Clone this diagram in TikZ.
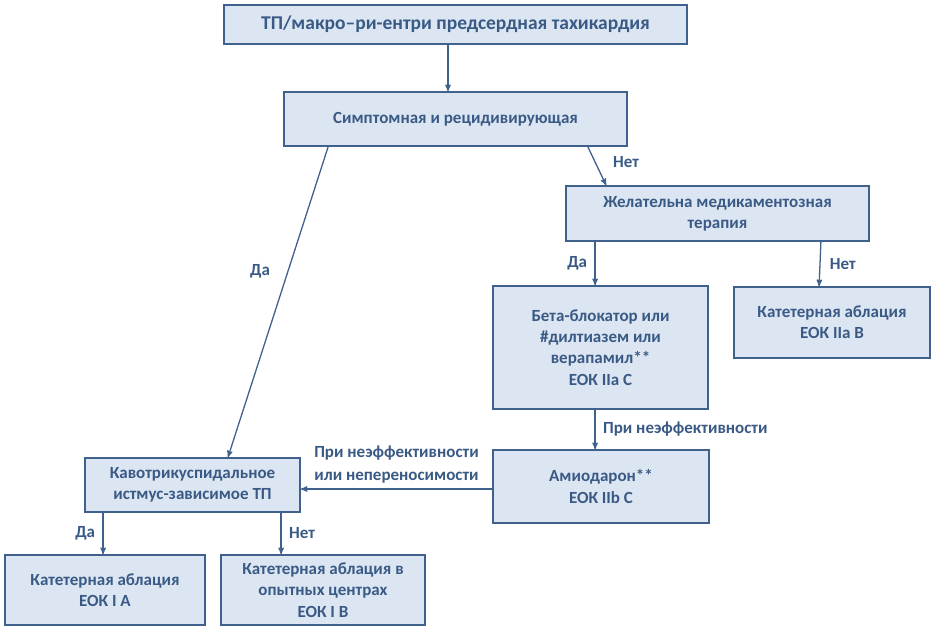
\documentclass[tikz,border=0pt]{standalone}
\usepackage{fontspec}
\setmainfont{Carlito}
\usepackage{tikz}
\usetikzlibrary{arrows}
\definecolor{boxfill}{HTML}{DCE6F2}
\definecolor{boxline}{HTML}{41618D}
\definecolor{boxtext}{HTML}{3A5A86}
\tikzstyle{bt} = [rectangle, draw=boxline, line width=1.8pt, fill=boxfill,
    text=boxtext, align=center, inner sep=0pt,
    font=\bfseries\fontsize{17}{21.3}\selectfont]
\tikzstyle{lbl} = [text=boxtext, font=\bfseries\fontsize{17}{23}\selectfont]

\begin{document}
\begin{tikzpicture}[->,>=stealth',shorten >=0pt,auto,node distance=90pt,
                    line width=1.3pt,color=boxline]
  \useasboundingbox (0,0) rectangle (937pt,-632pt);

  \node[bt, minimum width=463pt, minimum height=39pt,
        font=\bfseries\fontsize{19.5}{23}\selectfont]  (1) at (455.5pt,-24.5pt) {ТП/макро–ри-ентри предсердная тахикардия};
  \node[bt, minimum width=343pt, minimum height=54pt] (2) [below of=1,yshift=-4.5pt] {Симптомная и рецидивирующая};
  \node[bt, minimum width=303pt, minimum height=55pt] (3) [below of=2,xshift=262pt,yshift=-4.5pt] {Желательна медикаментозная\\терапия};
  \node[bt, minimum width=215pt, minimum height=123pt] (4) [below of=3,xshift=-117pt,yshift=-44pt] {Бета-блокатор или\\\#дилтиазем или\\верапамил**\\ЕОК IIa C};
  \node[bt, minimum width=196pt, minimum height=71pt] (5) [below of=3,xshift=114.5pt,yshift=-19pt] {Катетерная аблация\\ЕОК IIa B};
  \node[bt, minimum width=216pt, minimum height=73pt] (6) [below of=4,xshift=0.5pt,yshift=-49pt] {Амиодарон**\\ЕОК IIb C};
  \node[bt, minimum width=215pt, minimum height=54pt] (7) [left of=6,xshift=-318.5pt,yshift=1.5pt] {Кавотрикуспидальное\\истмус-зависимое ТП};
  \node[bt, minimum width=200pt, minimum height=70pt] (8) [below of=7,xshift=-87.5pt,yshift=-15pt] {Катетерная аблация\\ЕОК I A};
  \node[bt, minimum width=204pt, minimum height=70pt] (9) [below of=7,xshift=130.5pt,yshift=-15pt] {Катетерная аблация в\\опытных центрах\\ЕОК I B};

  \path ([xshift=-7.5pt]1.south) edge node {} ([xshift=-7.5pt]2.north)
  ([xshift=-40pt]2.south east) edge node[lbl, right=14pt, pos=0.4] {Нет} ([xshift=41pt]3.north west)
  ([xshift=45pt]2.south west) edge node[lbl, left=14pt, pos=0.4] {Да} ([xshift=35.5pt]7.north)
  ([xshift=30pt]3.south west) edge node[lbl, left=4pt] {Да} ([xshift=103pt]4.north west)
  ([xshift=-49pt]3.south east) edge node[lbl, right=6pt] {Нет} ([xshift=86pt]5.north west)
  ([xshift=103pt]4.south west) edge node[lbl, right=4pt] {При неэффективности} ([xshift=103pt]6.north west)
  ([yshift=-2.5pt]6.west) edge node[lbl, above=2pt, align=center] {При неэффективности\\или непереносимости} ([yshift=-4pt]7.east)
  ([xshift=19pt]7.south west) edge node[lbl, left=4pt] {Да} ([xshift=99pt]8.north west)
  ([xshift=197pt]7.south west) edge node[lbl, right=4pt] {Нет} ([xshift=61pt]9.north west);
\end{tikzpicture}
\end{document}
